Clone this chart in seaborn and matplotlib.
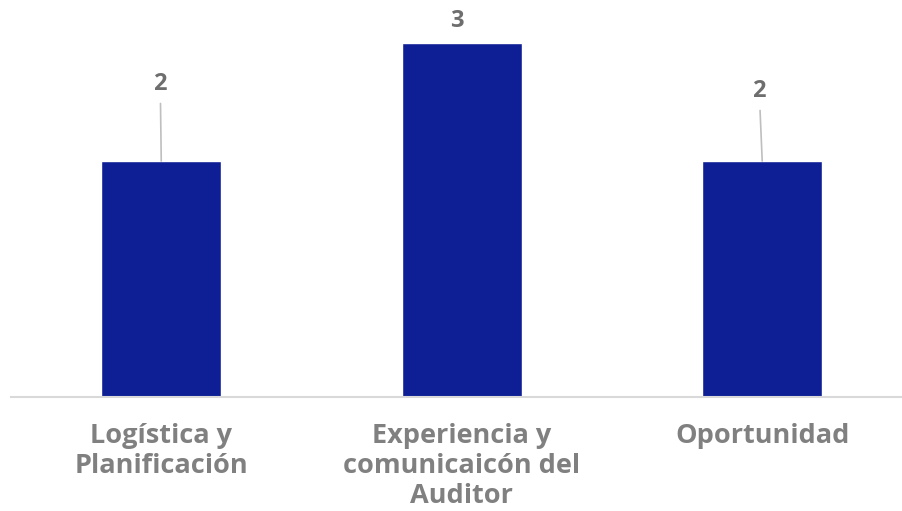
import matplotlib
matplotlib.use("Agg")
import matplotlib.pyplot as plt
import seaborn as sns
import pandas as pd

categories = ["Logística y\nPlanificación", "Experiencia y\ncomunicaicón del\nAuditor", "Oportunidad"]
values = [2, 3, 2]
# label offsets (pixels) from the top of each bar, and whether a leader line is drawn
label_offsets = [(-1, 77), (-5, 22), (-3, 70)]
leader_lines = [True, False, True]

sns.set_style("white")
plt.rcParams["font.family"] = ["Open Sans", "DejaVu Sans"]

df = pd.DataFrame({"categoria": categories, "valor": values})

fig = plt.figure(figsize=(9.02, 5.11), dpi=100)
ax = fig.add_axes([0.0122, 0.2231, 0.9994, 0.7769])

sns.barplot(data=df, x="categoria", y="valor", color="#0e1f96", width=0.4,
            saturation=1, ax=ax)

ax.set_xlim(-0.5, 2.5)
ax.set_ylim(0, 3.365)
ax.set_xlabel("")
ax.set_ylabel("")
ax.set_yticks([])
for side in ["left", "right", "top"]:
    ax.spines[side].set_visible(False)
ax.spines["bottom"].set_color("#d9d9d9")
ax.spines["bottom"].set_linewidth(1.5)
ax.tick_params(axis="x", length=0, pad=19)
ax.set_xticks(range(len(categories)))
ax.set_xticklabels(categories, fontsize=19.5, fontweight="bold", color="#808080",
                   linespacing=1.2)

for i, (v, off, line) in enumerate(zip(values, label_offsets, leader_lines)):
    arrow = dict(arrowstyle="-", color="#bfbfbf", lw=1.2, shrinkA=3, shrinkB=0) if line else None
    ax.annotate(str(v), xy=(i, v), xytext=off, textcoords="offset pixels",
                ha="center", va="center", fontsize=17, fontweight="bold",
                color="#6e6e6e", arrowprops=arrow, annotation_clip=False)

fig.savefig("out.png", dpi=100)
